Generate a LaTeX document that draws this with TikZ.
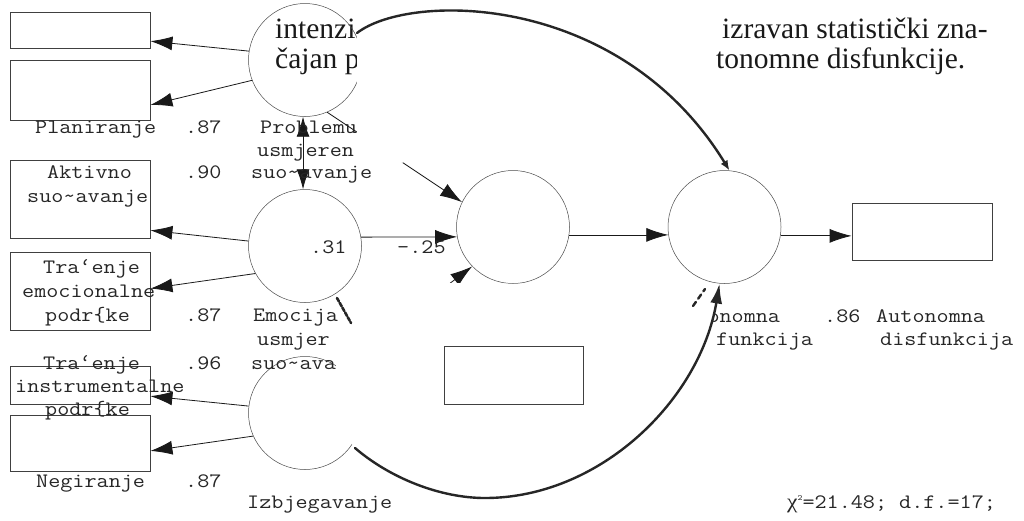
\documentclass[tikz,border=0pt]{standalone}
\usepackage{fontspec}
\setmainfont{Liberation Serif}
\usetikzlibrary{arrows.meta,shapes.geometric}
\begin{document}
\begin{tikzpicture}[x=1pt,y=-1pt,
  latent/.style={circle, draw=black!70, line width=0.5pt, minimum size=113pt, inner sep=0pt},
  observed/.style={rectangle, draw=black!75, line width=0.8pt, inner sep=0pt},
  lbl/.style={font=\ttfamily\fontsize{20.5}{22}\selectfont, xscale=1.145, anchor=base west, inner sep=0pt, text=black!85},
  bodytxt/.style={font=\fontsize{29.5}{33}\selectfont, anchor=base west, inner sep=0pt, text=black!90},
  path arrow/.style={-{Latex[length=22pt 0 1,width=14pt 0 1]}, line width=0.8pt, draw=black!90},
  both arrow/.style={{Latex[length=20pt 0 1,width=13pt 0 1]}-{Latex[length=20pt 0 1,width=13pt 0 1]}, line width=0.8pt, draw=black!90},
  heavy/.style={line width=2.4pt, draw=black!85, line cap=round},
  mask/.style={fill=white, draw=none},
]
\useasboundingbox (0,0) rectangle (1024,520);
\fill[white] (0,0) rectangle (1024,520);

% body text of the page
\node[bodytxt] (t1) at (275,38) {intenzi};
\node[bodytxt] (t2) at (275,68) {čajan p};
\node[bodytxt] (t3) at (722,38) {izravan statistički zna-};
\node[bodytxt] (t4) at (716,68) {tonomne disfunkcije.};

% latent variables
\node[latent] (P) at (305,60) {};
\node[latent] (E) at (305,246) {};
\node[latent] (I) at (305,413) {};
\node[latent] (M) at (513,227) {};
\node[latent] (A) at (724.5,227) {};

% observed variables
\node[observed, minimum width=140pt, minimum height=36pt] (b1) at (80,30) {};
\node[observed, minimum width=140pt, minimum height=60pt] (b2) at (80,90) {};
\node[observed, minimum width=140pt, minimum height=78pt] (b3) at (80,199) {};
\node[observed, minimum width=140pt, minimum height=78pt] (b4) at (80,291) {};
\node[observed, minimum width=140pt, minimum height=38pt] (b5) at (80,385) {};
\node[observed, minimum width=140pt, minimum height=56pt] (b6) at (80,443.5) {};
\node[observed, minimum width=140pt, minimum height=57pt] (bR) at (922,231.5) {};

% thin paths
\draw[path arrow] (P.171) -- (b1.-9.5);
\draw[path arrow] (P.201) -- (b2.-12.5);
\draw[path arrow] (E.175) -- (b3.-24.6);
\draw[path arrow] (E.209) -- (b4.2.4);
\draw[path arrow] (I.173) -- (b5.-9.5);
\draw[path arrow] (I.204) -- (b6.-6.7);
\draw[both arrow] (P.268) -- (E.92);
\draw[path arrow] (P.-67.5) -- (M.154.7);
\draw[path arrow] (E.9) -- (M.190);
\draw[path arrow] (I.53) -- (M.224);
\draw[path arrow] (M.-8.5) -- (A.188.5);
\draw[path arrow] (A.-9.5) -- (bR.west |- A.-9.5);

% labels
\node[lbl] (l1) at (35,133) {Planiranje};
\node[lbl] (l2) at (185,133) {.87};
\node[lbl] (l3) at (260,133) {Problemu};
\node[lbl] (l4) at (257,156) {usmjeren};
\node[lbl] (l5) at (47,178) {Aktivno};
\node[lbl] (l6) at (185,178) {.90};
\node[lbl] (l7) at (251,178) {suo\textasciitilde avanje};
\node[lbl] (l8) at (27,202) {suo\textasciitilde avanje};
\node[lbl] (l9) at (43,273) {Tra‘enje};
\node[lbl] (l10) at (22,297) {emocionalne};
\node[lbl] (l11) at (45,321) {podr\{ke};
\node[lbl] (l12) at (185,321) {.87};
\node[lbl] (l13) at (253,321) {Emocija};
\node[lbl] (l14) at (257,345) {usmjeren};
\node[lbl] (l15) at (43,369) {Tra‘enje};
\node[lbl] (l16) at (185,369) {.96};
\node[lbl] (l17) at (251,369) {suo\textasciitilde avanje};
\node[lbl] (l18) at (15,392) {instrumentalne};
\node[lbl] (l19) at (45,415) {podr\{ke};
\node[lbl] (l20) at (36,487) {Negiranje};
\node[lbl] (l21) at (185,487) {.87};
\node[lbl] (l22) at (247,508) {Izbjegavanje};
\node[lbl] (l23) at (310,253) {.31};
\node[lbl] (l24) at (397,253) {-.25};
\node[lbl] (l25) at (671,322) {Autonomna};
\node[lbl] (l26) at (716,345) {funkcija};
\node[lbl] (l27) at (824,322) {.86};
\node[lbl] (l28) at (876,322) {Autonomna};
\node[lbl] (l29) at (880,345) {disfunkcija};
\node[lbl] (l30) at (787,508) {{\rmfamily χ}\raisebox{8pt}{\fontsize{8}{8}\selectfont 2}=21.48; d.f.=17;};

% white patches of the scan
\fill[mask] (357,4) -- (711,4) -- (711,85) -- (420,152) -- (402,163) -- (357,145) -- cycle;
\fill[mask] (350,282) -- (713,286) -- (713,326) -- (706,330) -- (700,440) -- (600,478) -- (480,502) -- (400,480) -- (356,450) -- (352,444) -- (336,372) -- (336,352) -- (331,350) -- (331,328) -- (340,326) -- (340,304) -- (336,299) -- cycle;

% items lying on top
\node[observed, minimum width=139pt, minimum height=58pt] (bM) at (513.5,375) {};
\coordinate (c1s) at (357,33);
\draw[heavy, -{Latex[length=10pt 0 1,width=8pt 0 1]}] (c1s) .. controls (410,-8) and (620,-8) .. (A.85);
\coordinate (c2s) at (355,448);
\coordinate (c2m) at (485,498);
\draw[heavy, -{Latex[length=20pt 0 1,width=12pt 0 1]}] (c2s) .. controls (390,478) and (440,498) .. (c2m) .. controls (600,498) and (700,400) .. (A.265);
\coordinate (s1a) at (337,298);
\coordinate (s1b) at (351,323);
\draw[heavy, line width=2.6pt, dash pattern=on 4pt off 1.5pt] (s1a) -- (s1b);
\coordinate (s2a) at (693,306);
\coordinate (s2b) at (705,289);
\draw[heavy, dash pattern=on 5pt off 4pt] (s2a) -- (s2b);
\end{tikzpicture}
\end{document}
